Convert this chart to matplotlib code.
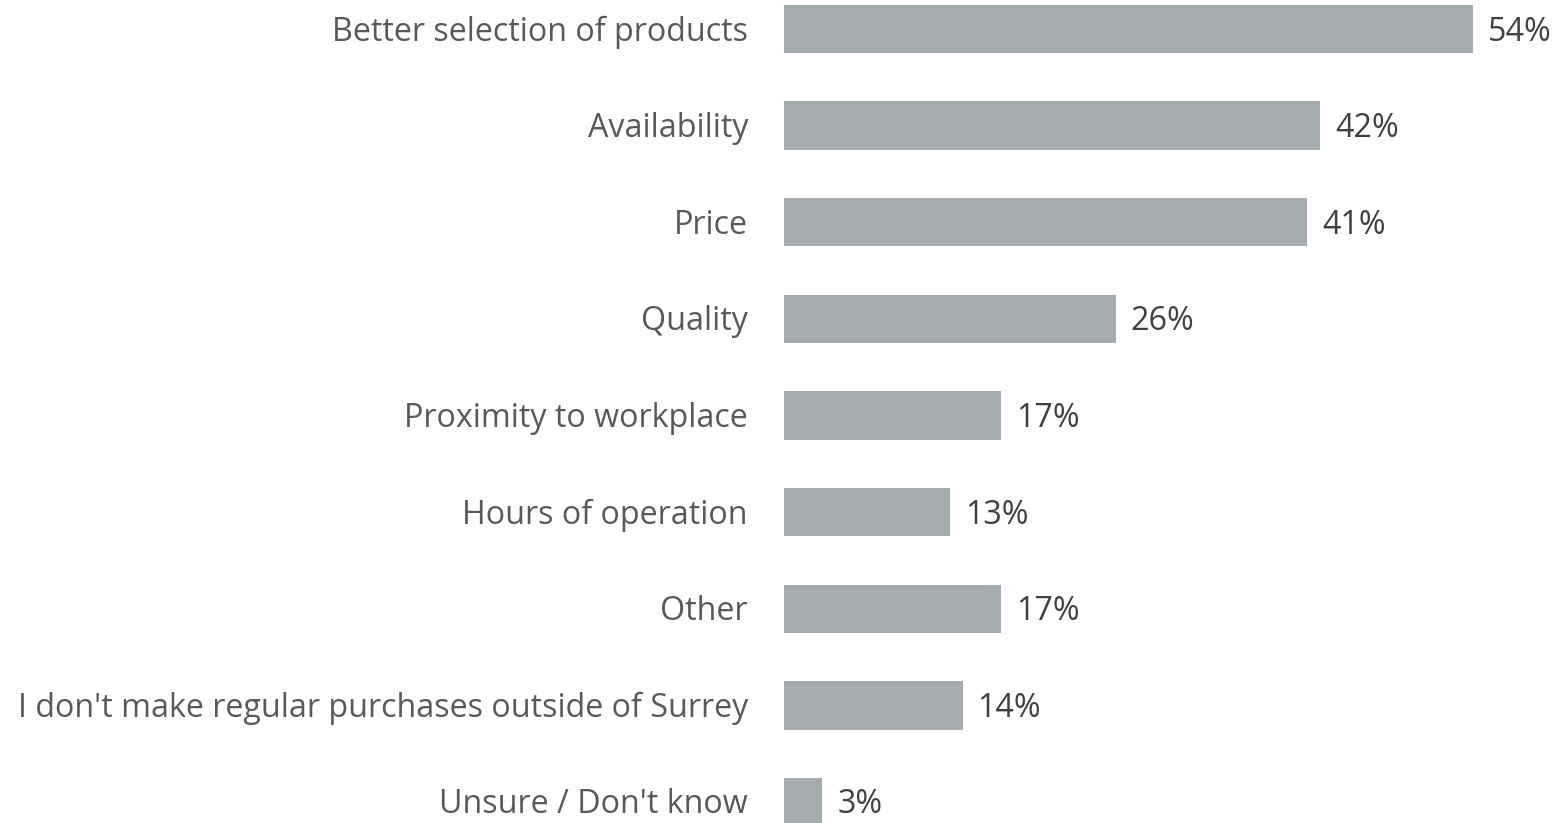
import matplotlib.pyplot as plt

categories = [
    "Better selection of products",
    "Availability",
    "Price",
    "Quality",
    "Proximity to workplace",
    "Hours of operation",
    "Other",
    "I don't make regular purchases outside of Surrey",
    "Unsure / Don't know",
]
values = [54, 42, 41, 26, 17, 13, 17, 14, 3]
value_labels = ["54%", "42%", "41%", "26%", "17%", "13%", "17%", "14%", "3%"]

plt.rcParams['font.family'] = ['Open Sans', 'DejaVu Sans']

W, H = 1562, 823
fig = plt.figure(figsize=(W / 100, H / 100), dpi=100)
ax = fig.add_axes([784 / W, 0, (W - 784) / W, 1])

y = range(len(categories))
ax.barh(y, values, height=0.5, color='#A5ACAF')

px_per_unit = 96.6
ax.set_ylim(8 + 21 / px_per_unit, -29 / px_per_unit)
ax.set_xlim(0, (W - 784) / 12.76)

for i, (v, lab) in enumerate(zip(values, value_labels)):
    ax.annotate(lab, (v, i), xytext=(15, -3), textcoords='offset pixels',
                va='center', ha='left', fontsize=23.2, color='#404040')

for i, cat in enumerate(categories):
    ax.annotate(cat, (0, i), xytext=(-36, -3), textcoords='offset pixels',
                va='center', ha='right', fontsize=23.2, color='#595959',
                annotation_clip=False)

ax.axis('off')
fig.savefig('out.png', dpi=100)
